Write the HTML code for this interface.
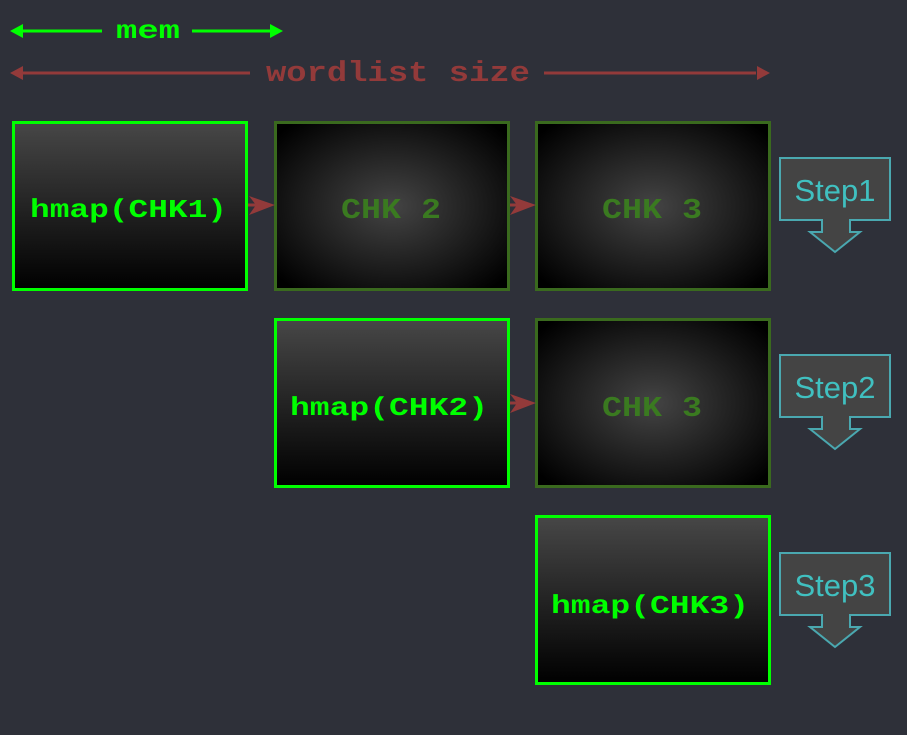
<!DOCTYPE html>
<html><head><style>html,body{margin:0;padding:0;background:#2e3039;}svg{display:block}</style></head><body>
<svg width="907" height="735" viewBox="0 0 907 735" xmlns="http://www.w3.org/2000/svg">
<defs>
<linearGradient id="lg" x1="0" y1="0" x2="0" y2="1"><stop offset="0" stop-color="#474747"/><stop offset="1" stop-color="#000"/></linearGradient>
<radialGradient id="rg" cx="0.5" cy="0.5" r="0.65"><stop offset="0" stop-color="#444"/><stop offset="1" stop-color="#000"/></radialGradient>
</defs>
<rect width="907" height="735" fill="#2e3039"/>
<g font-family="'Liberation Mono', 'Courier New', monospace" font-weight="bold" lengthAdjust="spacingAndGlyphs">
<line x1="22" y1="31" x2="102" y2="31" stroke="#00ff00" stroke-width="3"/>
<line x1="192" y1="31" x2="270" y2="31" stroke="#00ff00" stroke-width="3"/>
<polygon points="10,31 23,24 23,38" fill="#00ff00"/>
<polygon points="283,31 270,24 270,38" fill="#00ff00"/>
<text x="116" y="38" font-size="26" fill="#00ff00" textLength="64" lengthAdjust="spacingAndGlyphs">mem</text>
<line x1="22" y1="73" x2="250" y2="73" stroke="#933a3a" stroke-width="3"/>
<line x1="544" y1="73" x2="756" y2="73" stroke="#933a3a" stroke-width="3"/>
<polygon points="10,73 23,66 23,80" fill="#933a3a"/>
<polygon points="770,73 757,66 757,80" fill="#933a3a"/>
<text x="266" y="81" font-size="29" fill="#933a3a" textLength="264" lengthAdjust="spacingAndGlyphs">wordlist size</text>

<rect x="13.5" y="122.5" width="233" height="167" fill="url(#lg)" stroke="#00ff00" stroke-width="3"/>
<text x="30" y="217" font-size="26" fill="#00ff00" textLength="197" lengthAdjust="spacingAndGlyphs">hmap(CHK1)</text>
<rect x="275.5" y="122.5" width="233" height="167" fill="url(#rg)" stroke="#3a6a1e" stroke-width="3"/>
<text x="341" y="218" font-size="29" fill="#3a7a20" textLength="100" lengthAdjust="spacingAndGlyphs">CHK 2</text>
<rect x="536.5" y="122.5" width="233" height="167" fill="url(#rg)" stroke="#3a6a1e" stroke-width="3"/>
<text x="602" y="218" font-size="29" fill="#3a7a20" textLength="100" lengthAdjust="spacingAndGlyphs">CHK 3</text>
<rect x="275.5" y="319.5" width="233" height="167" fill="url(#lg)" stroke="#00ff00" stroke-width="3"/>
<text x="290" y="415" font-size="26" fill="#00ff00" textLength="198" lengthAdjust="spacingAndGlyphs">hmap(CHK2)</text>
<rect x="536.5" y="319.5" width="233" height="167" fill="url(#rg)" stroke="#3a6a1e" stroke-width="3"/>
<text x="602" y="416" font-size="29" fill="#3a7a20" textLength="100" lengthAdjust="spacingAndGlyphs">CHK 3</text>
<rect x="536.5" y="516.5" width="233" height="167" fill="url(#lg)" stroke="#00ff00" stroke-width="3"/>
<text x="551" y="613" font-size="26" fill="#00ff00" textLength="198" lengthAdjust="spacingAndGlyphs">hmap(CHK3)</text>
</g>
<g fill="#933a3a">
<line x1="248" y1="205" x2="266" y2="205" stroke="#933a3a" stroke-width="3"/>
<polygon points="275,205 249,196 256,205 249,215"/>
<line x1="510" y1="205" x2="528" y2="205" stroke="#933a3a" stroke-width="3"/>
<polygon points="536,205 510,196 517,205 510,215"/>
<line x1="510" y1="403" x2="528" y2="403" stroke="#933a3a" stroke-width="3"/>
<polygon points="536,403 510,394 517,403 510,413"/>
</g>
<g fill="#444" stroke="#4aa8b0" stroke-width="2" font-family="Liberation Sans, sans-serif">
<path d="M780,158 H890 V220 H850 V232 H860 L835,252 L810,232 H822 V220 H780 Z"/>
<text x="835" y="201" font-size="31" fill="#40c0c0" stroke="none" text-anchor="middle">Step1</text>
<path d="M780,355 H890 V417 H850 V429 H860 L835,449 L810,429 H822 V417 H780 Z"/>
<text x="835" y="398" font-size="31" fill="#40c0c0" stroke="none" text-anchor="middle">Step2</text>
<path d="M780,553 H890 V615 H850 V627 H860 L835,647 L810,627 H822 V615 H780 Z"/>
<text x="835" y="596" font-size="31" fill="#40c0c0" stroke="none" text-anchor="middle">Step3</text>
</g>
</svg>
</body></html>
